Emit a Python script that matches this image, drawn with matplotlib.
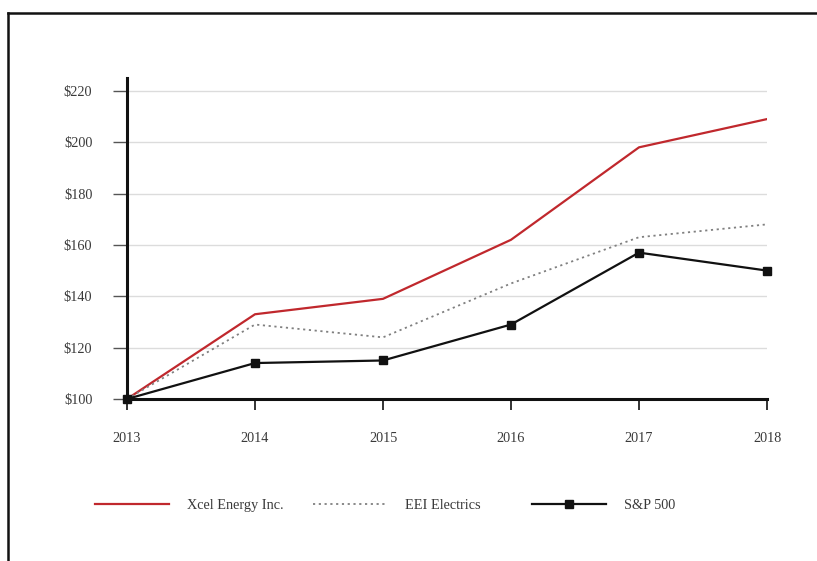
import matplotlib
matplotlib.use("Agg")
import matplotlib.pyplot as plt
from matplotlib.lines import Line2D

years = [2013, 2014, 2015, 2016, 2017, 2018]
xcel = [100, 133, 139, 162, 198, 209]
eei = [100, 129, 124, 145, 163, 168]
sp500 = [100, 114, 115, 129, 157, 150]
yticks = [100, 120, 140, 160, 180, 200, 220]
ytick_labels = ["$100", "$120", "$140", "$160", "$180", "$200", "$220"]
series_names = ["Xcel Energy Inc.", "EEI Electrics", "S&P 500"]

plt.rcParams['font.family'] = ['Liberation Serif', 'DejaVu Serif']
TXT = '#3a3a3a'
FS = 10.3

fig = plt.figure(figsize=(8.17, 5.61), dpi=100)
W, H = 817, 561
ax = fig.add_axes([127 / W, 1 - 399 / H, (767 - 127) / W, (399 - 78) / H])

ax.set_xlim(2013, 2018)
ax.set_ylim(100, 225)

for v in yticks[1:]:
    ax.axhline(v, color='#dcdcdc', lw=1.0, zorder=0)

ax.plot(years, xcel, color='#c0282d', lw=1.6, zorder=3)
ax.plot(years, eei, color='#808080', lw=1.3, ls=(0, (1.2, 2.0)), zorder=3)
ax.plot(years, sp500, color='#111111', lw=1.6, marker='s', markersize=5.5,
        clip_on=False, zorder=4)

ax.set_yticks(yticks)
ax.set_yticklabels(ytick_labels)
ax.set_xticks(years)
ax.set_xticklabels([str(y) for y in years])

for s in ['top', 'right']:
    ax.spines[s].set_visible(False)
for s in ['left', 'bottom']:
    ax.spines[s].set_linewidth(2.2)
    ax.spines[s].set_color('#111111')

ax.tick_params(axis='x', length=8, width=1.2, color='#111111', pad=16,
               labelsize=FS, labelcolor=TXT)
ax.tick_params(axis='y', length=10, width=1.0, color='#555555', pad=15,
               labelsize=FS, labelcolor=TXT)

# Legend (three single-entry legends placed below)
handles = [
    Line2D([], [], color='#c0282d', lw=1.6),
    Line2D([], [], color='#808080', lw=1.3, ls=(0, (1.2, 2.0))),
    Line2D([], [], color='#111111', lw=1.6, marker='s', markersize=5.5),
]
xs = [95, 313, 532]
for h, name, x in zip(handles, series_names, xs):
    fig.legend([h], [name], loc='center left',
               bbox_to_anchor=(x / W, 1 - 505 / H),
               frameon=False, fontsize=FS, handlelength=5.2,
               handletextpad=1.2, borderpad=0, borderaxespad=0,
               labelcolor=TXT)

# outer frame (top and left visible)
fig.add_artist(Line2D([8 / W, 1.0], [1 - 13 / H, 1 - 13 / H], color='#111111', lw=1.8,
                      transform=fig.transFigure))
fig.add_artist(Line2D([8 / W, 8 / W], [1 - 13 / H, 0.0], color='#111111', lw=1.8,
                      transform=fig.transFigure))

fig.savefig('out.png', dpi=100)
